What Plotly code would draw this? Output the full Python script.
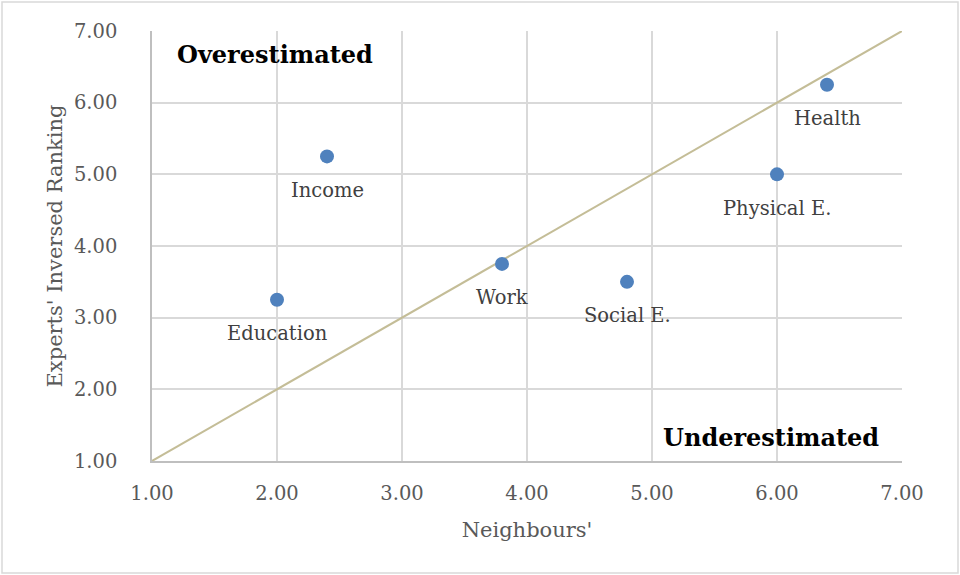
import plotly.graph_objects as go

categories = ["Education", "Income", "Work", "Social E.", "Physical E.", "Health"]
neighbours = [2.0, 2.4, 3.8, 4.8, 6.0, 6.4]
experts = [3.25, 5.25, 3.75, 3.5, 5.0, 6.25]
diag_x = [1.0, 7.0]
diag_y = [1.0, 7.0]
tick_vals = [1, 2, 3, 4, 5, 6, 7]
tick_text = ["1.00", "2.00", "3.00", "4.00", "5.00", "6.00", "7.00"]

FONT = "DejaVu Serif"
GREY = "#595959"

fig = go.Figure()
fig.add_trace(go.Scatter(x=diag_x, y=diag_y, mode="lines",
                         line=dict(color="#c4bd97", width=2), hoverinfo="skip"))
fig.add_trace(go.Scatter(x=neighbours, y=experts, mode="markers",
                         marker=dict(color="#4f81bd", size=14)))

for c, x, y in zip(categories, neighbours, experts):
    fig.add_annotation(x=x, y=y, text=c, showarrow=False, yshift=-34,
                       font=dict(family=FONT, size=19.5, color="#404040"))

fig.add_annotation(x=1.98, y=6.67, text="<b>Overestimated</b>", showarrow=False,
                   font=dict(family=FONT, size=24, color="black"))
fig.add_annotation(x=5.95, y=1.33, text="<b>Underestimated</b>", showarrow=False,
                   font=dict(family=FONT, size=24, color="black"))

axis_common = dict(range=[1, 7], tickvals=tick_vals, ticktext=tick_text,
                   showgrid=True, gridcolor="#d9d9d9", gridwidth=1.5,
                   showline=True, linecolor="#bfbfbf", linewidth=1.5,
                   zeroline=False, tickfont=dict(family=FONT, size=19.5, color=GREY),
                   ticks="")

fig.update_layout(
    width=960, height=575,
    margin=dict(l=152, r=58, t=31, b=114),
    paper_bgcolor="white", plot_bgcolor="white",
    showlegend=False,
    xaxis=dict(**axis_common, ticklabelstandoff=14,
               title=dict(text="Neighbours'", font=dict(family=FONT, size=21, color=GREY), standoff=18)),
    yaxis=dict(**axis_common, ticklabelstandoff=29,
               title=dict(text="Experts' Inversed Ranking", font=dict(family=FONT, size=21, color=GREY), standoff=6)),
    shapes=[dict(type="rect", xref="paper", yref="paper",
                 x0=-150/750, x1=1 + 56/750, y0=-112/430, y1=1 + 29/430,
                 line=dict(color="#d9d9d9", width=1.5), fillcolor="rgba(0,0,0,0)", layer="below")],
)

fig.write_html("out.html")
